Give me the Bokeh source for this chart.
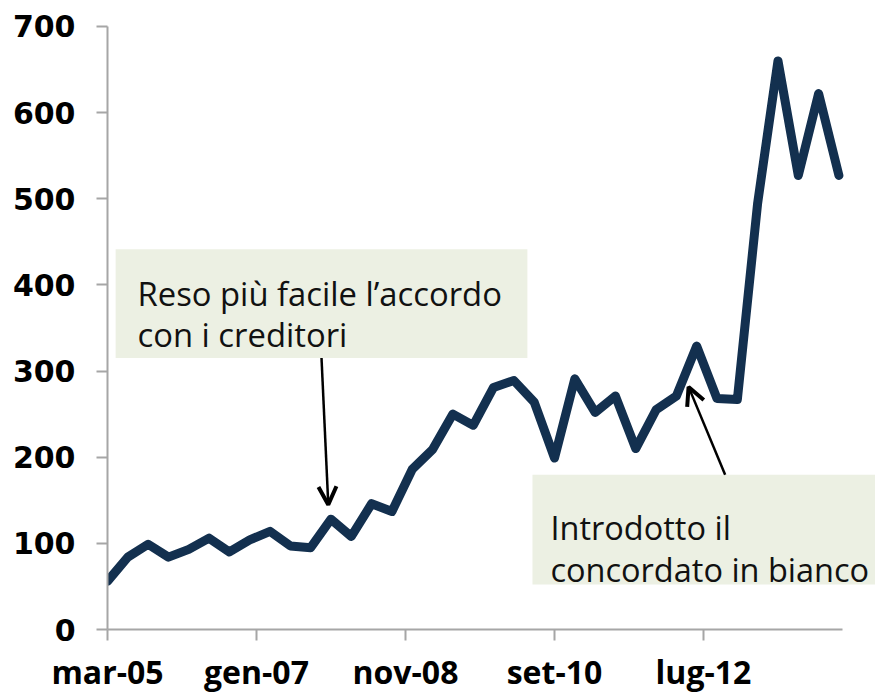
from bokeh.plotting import figure
from bokeh.models import Range1d, FixedTicker, BoxAnnotation, Label, Arrow, OpenHead
from bokeh.embed import file_html
from bokeh.resources import INLINE

# ---- data (quarterly, from mar-05 to mar-14) ----
mesi_it = ["gen", "feb", "mar", "apr", "mag", "giu", "lug", "ago", "set", "ott", "nov", "dic"]
periods = []
for i in range(37):
    m = 2 + 3 * i
    periods.append(f"{mesi_it[m % 12]}-{(5 + m // 12):02d}")
month_offsets = [3 * i for i in range(len(periods))]
values = [56, 84, 99, 84, 93, 106, 90, 104, 114, 97, 95, 128, 108, 146, 137, 186,
          209, 250, 237, 281, 289, 264, 199, 291, 252, 271, 210, 255, 271, 329,
          268, 267, 495, 660, 527, 622, 527]

tick_months = [0, 22, 44, 66, 88]
tick_labels = ["mar-05", "gen-07", "nov-08", "set-10", "lug-12"]
y_ticks = [0, 100, 200, 300, 400, 500, 600, 700]

note1 = ["Reso più facile l\u2019accordo", "con i creditori"]
note2 = ["Introdotto il", "concordato in bianco"]

LINE = "#13304F"
BOX = "#ECF0E3"
AXIS = "#A6A6A6"

p = figure(width=875, height=695, output_backend="svg", toolbar_location=None,
           x_range=Range1d(0, 113.4), y_range=Range1d(0, 730.1),
           min_border_left=107, min_border_right=0, min_border_top=0,
           min_border_bottom=65)
p.outline_line_color = None
p.xgrid.grid_line_color = None
p.ygrid.grid_line_color = None
p.background_fill_color = "white"

# annotation boxes
p.add_layout(BoxAnnotation(left=1.2, right=62.0, bottom=315.2, top=441.5,
                           fill_color=BOX, fill_alpha=1, line_alpha=0))
p.add_layout(BoxAnnotation(left=62.75, right=116, bottom=52.1, top=179.6,
                           fill_color=BOX, fill_alpha=1, line_alpha=0))

p.line(month_offsets, values, line_color=LINE, line_width=9,
       line_join="round", line_cap="round")

# texts
for txt, yy in zip(note1, [390.5, 341.9]):
    p.add_layout(Label(x=4.43, y=yy, text=txt, text_font="Open Sans",
                       text_font_size="32.8px", text_color="#111111",
                       text_baseline="alphabetic"))
for txt, yy in zip(note2, [118.2, 69.5]):
    p.add_layout(Label(x=65.4, y=yy, text=txt, text_font="Open Sans",
                       text_font_size="32.5px", text_color="#111111",
                       text_baseline="alphabetic"))

# arrows
p.add_layout(Arrow(end=OpenHead(size=18, line_width=4, line_color="black"),
                   x_start=31.6, y_start=315.2, x_end=32.6, y_end=144.9,
                   line_width=2.5, line_color="black"))
p.add_layout(Arrow(end=OpenHead(size=18, line_width=4, line_color="black"),
                   x_start=91.2, y_start=179.6, x_end=85.8, y_end=281.6,
                   line_width=2.5, line_color="black"))

# axes
xa = p.xaxis[0]
xa.bounds = (0, 108.5)
xa.ticker = FixedTicker(ticks=tick_months)
xa.major_label_overrides = {t: l for t, l in zip(tick_months, tick_labels)}
xa.minor_tick_line_color = None
xa.major_tick_in = 0
xa.major_tick_out = 11
xa.axis_line_color = AXIS
xa.axis_line_width = 2
xa.major_tick_line_color = AXIS
xa.major_tick_line_width = 2
xa.major_label_text_font = "Open Sans"
xa.major_label_text_font_style = "bold"
xa.major_label_text_font_size = "32px"
xa.major_label_text_color = "black"
xa.major_label_standoff = 9

ya = p.yaxis[0]
ya.bounds = (0, 700)
ya.ticker = FixedTicker(ticks=y_ticks)
ya.minor_tick_line_color = None
ya.major_tick_in = 0
ya.major_tick_out = 11
ya.axis_line_color = AXIS
ya.axis_line_width = 2
ya.major_tick_line_color = AXIS
ya.major_tick_line_width = 2
ya.major_label_text_font = "DejaVu Sans"
ya.major_label_text_font_style = "bold"
ya.major_label_text_font_size = "30px"
ya.major_label_text_color = "black"
ya.major_label_standoff = 21

open("out.html", "w").write(file_html(p, INLINE))
